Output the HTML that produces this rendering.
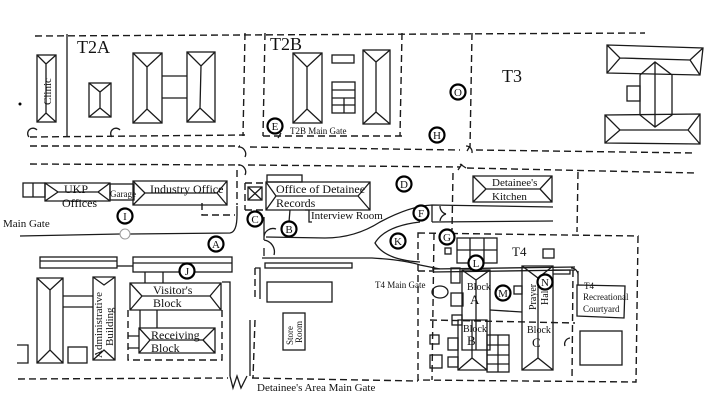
<!DOCTYPE html>
<html><head><meta charset="utf-8"><style>
html,body{margin:0;padding:0;background:#fff;}
svg{display:block;}
text{font-family:"Liberation Serif",serif;fill:#111;}
.s{fill:none;stroke:#1a1a1a;stroke-width:1.3;}
.d{fill:none;stroke:#1a1a1a;stroke-width:1.4;stroke-dasharray:7 4;}
.c{fill:#fff;stroke:#000;stroke-width:2.2;}
.cl{font-size:11px;text-anchor:middle;}
</style></head><body>
<svg width="720" height="414" viewBox="0 0 720 414" xmlns="http://www.w3.org/2000/svg">
<path class="d" d="M35 36 L645 33"/>
<path class="d" d="M245 33 L243 136"/>
<path class="d" d="M265 33 L263 136"/>
<path class="d" d="M402 33 L400 136"/>
<path class="d" d="M472 33 L470 148"/>
<path class="d" d="M30 137 L245 135"/>
<path class="d" d="M263 136 L402 136"/>
<line class="s" x1="67" y1="34" x2="67" y2="137"/>
<text x="77" y="53" font-size="18">T2A</text>
<text x="270" y="50" font-size="18">T2B</text>
<text x="502" y="82" font-size="18">T3</text>
<g class="s"><rect x="37" y="55" width="19" height="67"/><path d="M37 55 L46 64 L56 55 M46 64 L46 113 M37 122 L46 113 L56 122"/></g>
<text x="0" y="0" font-size="11" transform="translate(51,105) rotate(-90)">Clinic</text>
<circle cx="20" cy="104" r="1.5" fill="#000"/>
<g class="s">
<rect x="89" y="83" width="22" height="34"/><path d="M89 83 L100 92 L111 83 M100 92 L100 108 M89 117 L100 108 L111 117"/>
<rect x="133" y="53" width="29" height="70"/><path d="M133 53 L147 67 L162 53 M147 67 L147 109 M133 123 L147 109 L162 123"/>
<rect x="187" y="52" width="28" height="70"/><path d="M187 52 L201 66 L215 52 M201 66 L200 108 M187 122 L200 108 L215 122"/>
<path d="M162 76 L187 76 M162 98 L187 98"/>
<rect x="293" y="53" width="29" height="70"/><path d="M293 53 L307 67 L322 53 M307 67 L307 109 M293 123 L307 109 L322 123"/>
<rect x="332" y="55" width="22" height="8"/>
<rect x="332" y="82" width="23" height="31"/><path d="M332 90 L355 90 M332 98 L355 98 M332 105 L355 105 M344 98 L344 113"/>
<rect x="363" y="50" width="27" height="74"/><path d="M363 50 L376 62 L390 50 M376 62 L376 112 M363 124 L376 112 L390 124"/>
<path d="M607 45 L703 48 L700 75 L607 73 Z M607 45 L620 58 L607 73 M620 58 L690 60 L703 48 M690 60 L700 75"/>
<path d="M605 115 L700 114 L700 144 L605 143 Z M605 115 L620 130 L605 143 M620 130 L688 130 L700 114 M688 130 L700 144"/>
<path d="M640 75 L655 62 L672 75 L672 115 L655 127 L640 115 Z M655 62 L655 127"/>
<rect x="627" y="86" width="13" height="15"/>
</g>
<g class="s"><path d="M29 137 a5 5 0 0 1 8 -7"/><path d="M112 137 a5 5 0 0 1 8 -7"/><path d="M278 138 l3 -5"/><path d="M467 151 l3 -5 M466 146 a6 6 0 0 1 6 7"/><path d="M458 170 l4 -6 M460 164 l6 4"/></g>
<path class="d" d="M30 146 L240 146 M250 147 L460 150 M476 150 L695 153"/>
<path class="d" d="M30 164 L240 165 M248 165 L460 167 M467 168 L695 173"/>
<g class="s"><path d="M238 147 a7 7 0 0 1 7 10"/><path d="M238 165 a7 7 0 0 1 7 10"/></g>
<circle class="c" cx="275" cy="126" r="7.5"/><text class="cl" x="275" y="130">E</text>
<text x="290" y="134" font-size="9">T2B Main Gate</text>
<circle class="c" cx="458" cy="92" r="7.5"/><text class="cl" x="458" y="96">O</text>
<circle class="c" cx="437" cy="135" r="7.5"/><text class="cl" x="437" y="139">H</text>
<g class="s">
<rect x="23" y="183" width="22" height="14"/><line x1="33" y1="183" x2="33" y2="197"/>
<path d="M45 183 L110 183 L110 201 L45 201 Z M45 183 L58 192 L45 201 M58 192 L98 192 L110 183 M98 192 L110 201"/>
<rect x="110" y="184" width="24" height="16"/>
<path d="M133 181 L227 181 L227 205 L133 205 Z M133 181 L145 193 L133 205 M145 193 L217 193 L227 181 M217 193 L227 205"/>
</g>
<path class="d" d="M202 203 L202 215 L235 215"/>
<text x="64" y="193" font-size="12">UKP</text><text x="62" y="207" font-size="12">Offices</text>
<text x="110" y="197" font-size="9">Garage</text>
<text x="150" y="193" font-size="12">Industry Office</text>
<path class="d" d="M237 170 L237 205"/>
<path class="s" d="M20 236 L120 234 M130 234 L230 233 Q237 232 237 215 L237 206"/>
<circle cx="125" cy="234" r="5" fill="none" stroke="#999"/>
<text x="3" y="227" font-size="11">Main Gate</text>
<circle class="c" cx="125" cy="216" r="7.5"/><text class="cl" x="125" y="220">I</text>
<circle class="c" cx="216" cy="244" r="7.5"/><text class="cl" x="216" y="248">A</text>
<path class="d" d="M245 183 L265 183 M245 210 L265 210 M245 183 L245 210"/>
<g class="s">
<rect x="248" y="187" width="14" height="13"/><path d="M248 187 L262 200 M262 187 L248 200"/>
<rect x="267" y="175" width="35" height="7"/>
<path d="M266 182 L370 182 L370 210 L266 210 Z M266 182 L276 196 L266 210 M276 196 L358 196 L370 182 M358 196 L370 210"/>
<path d="M290 210 L289 222 M305 210 L309 210 L309 222 L312 222"/>
<path d="M264 217 L264 240 M264 237 a9 9 0 0 1 12 -8 M264 248 L264 256 M264 240 a12 12 0 0 1 10 15"/>
</g>
<text x="276" y="193" font-size="12">Office of Detainee</text>
<text x="276" y="207" font-size="12">Records</text>
<text x="311" y="219" font-size="11">Interview Room</text>
<circle class="c" cx="255" cy="219" r="7.5"/><text class="cl" x="255" y="223">C</text>
<circle class="c" cx="289" cy="229" r="7.5"/><text class="cl" x="289" y="233">B</text>
<g class="s">
<path d="M266 237 L325 238 Q355 238 380 222 Q410 206 432 205 L553 207"/>
<path d="M432 222 L553 221"/>
<path d="M262 258 L372 258 Q405 260 420 265 L440 269"/>
<path d="M420 262 Q385 260 375 243 Q385 226 420 222" />
<path d="M432 205 L432 222 M440 206 a8 8 0 0 0 6 8 M440 221 a8 8 0 0 1 6 -7"/>
<rect x="265" y="263" width="87" height="5"/>
</g>
<path class="d" d="M453 173 L452 230"/><path class="d" d="M578 172 L577 232"/>
<circle class="c" cx="404" cy="184" r="7.5"/><text class="cl" x="404" y="188">D</text>
<g class="s"><path d="M473 176 L552 176 L552 202 L473 202 Z M473 176 L486 189 L473 202 M486 189 L540 189 L552 176 M540 189 L552 202"/></g>
<text x="492" y="186" font-size="11">Detainee's</text><text x="492" y="200" font-size="11">Kitchen</text>
<circle class="c" cx="421" cy="213" r="7.5"/><text class="cl" x="421" y="217">F</text>
<circle class="c" cx="398" cy="241" r="7.5"/><text class="cl" x="398" y="245">K</text>
<path class="d" d="M418 233 L638 236 L636 382 L418 380 Z"/>
<path class="d" d="M434 233 L432 380 M430 320 L575 323 M573 270 L572 380 M418 271 L434 271"/>
<g class="s">
<path d="M432 269 L575 267 M433 272 L575 270"/>
<rect x="457" y="238" width="40" height="25"/><path d="M457 250 L497 250 M470 238 L470 263 M484 238 L484 263"/>
<rect x="543" y="249" width="11" height="9"/>
<rect x="445" y="248" width="6" height="6"/>
<path d="M462 270 L490 270 L490 350 L462 350 Z M462 270 L476 280 L490 270 M476 280 L476 350"/>
<path d="M458 320 L487 320 L487 370 L458 370 Z M458 370 L472 358 L487 370 M472 358 L472 320"/>
<rect x="487" y="335" width="22" height="37"/><path d="M487 345 L509 345 M487 355 L509 355 M487 364 L509 364 M498 335 L498 372"/>
<path d="M522 266 L553 266 L553 370 L522 370 Z M522 266 L538 278 L553 266 M538 278 L538 358 M522 370 L538 358 L553 370"/>
<path d="M490 310 L522 312"/>
<rect x="451" y="268" width="9" height="15"/>
<rect x="451" y="293" width="12" height="13"/>
<rect x="452" y="315" width="10" height="10"/>
<rect x="430" y="355" width="12" height="13"/>
<rect x="430" y="335" width="9" height="9"/>
<rect x="448" y="338" width="10" height="12"/>
<rect x="448" y="357" width="10" height="10"/>
<ellipse cx="440" cy="292" rx="8" ry="6"/>
<rect x="514" y="286" width="8" height="8"/>
<path d="M553 270 L570 270 L570 274 L553 274"/>
<path d="M571 268 a7 7 0 0 1 7 8 M578 271 L578 285"/>
<path d="M577 285 L625 286 L624 318 L577 316 Z"/>
<rect x="580" y="331" width="42" height="34"/>
<path d="M570 338 a6 6 0 0 0 -5 8"/>
</g>
<text x="512" y="256" font-size="13">T4</text>
<circle class="c" cx="476" cy="263" r="7.5"/><text class="cl" x="476" y="267">L</text>
<circle class="c" cx="545" cy="282" r="7.5"/><text class="cl" x="545" y="286">N</text>
<circle class="c" cx="503" cy="293" r="7.5"/><text class="cl" x="503" y="297">M</text>
<circle class="c" cx="447" cy="237" r="7.5"/><text class="cl" x="447" y="241">G</text>
<text x="467" y="290" font-size="10">Block</text><text x="470" y="304" font-size="13">A</text>
<text x="463" y="332" font-size="10">Block</text><text x="467" y="345" font-size="13">B</text>
<text x="527" y="333" font-size="10">Block</text><text x="532" y="347" font-size="13">C</text>
<text font-size="10" transform="translate(536,310) rotate(-90)">Prayer</text>
<text font-size="10" transform="translate(548,305) rotate(-90)">Hall</text>
<text x="584" y="289" font-size="9">T4</text>
<text x="583" y="300" font-size="9">Recreational</text>
<text x="583" y="312" font-size="9">Courtyard</text>
<text x="375" y="288" font-size="9">T4 Main Gate</text>
<g class="s">
<rect x="40" y="257" width="77" height="11"/><line x1="40" y1="261" x2="117" y2="261"/>
<path d="M117 266 L133 266"/>
<rect x="133" y="257" width="99" height="15"/><line x1="133" y1="263" x2="232" y2="263"/>
<path d="M145 272 L145 283 M163 272 L163 283"/>
<path d="M130 283 L221 283 L221 310 L130 310 Z M130 283 L142 296 L130 310 M142 296 L210 296 L221 283 M210 296 L221 310"/>
<path d="M140 310 L140 328 M157 310 L157 328"/>
<path d="M139 328 L215 328 L215 353 L139 353 Z M139 328 L150 340 L139 353 M150 340 L203 340 L215 328 M203 340 L215 353"/>
<path d="M128 336 L139 336 M128 348 L139 348"/>
<path d="M222 282 L230 282 L230 376"/>
<path d="M37 278 L63 278 L63 363 L37 363 Z M37 278 L50 290 L63 278 M50 290 L50 350 M37 363 L50 350 L63 363"/>
<path d="M63 296 L93 296 M63 307 L93 307"/>
<path d="M93 277 L115 277 L115 360 L93 360 Z M93 277 L104 285 L115 277 M93 360 L104 350 L115 360"/>
<rect x="68" y="347" width="19" height="16"/>
<path d="M17 345 L28 345 L28 363 L17 363"/>
<path d="M230 376 L233 388 L237 376 L241 388 L247 376"/>
</g>
<path class="d" d="M128 310 L128 360 L222 360 L222 310"/>
<circle class="c" cx="187" cy="271" r="7.5"/><text class="cl" x="187" y="275">J</text>
<text x="153" y="294" font-size="12">Visitor's</text><text x="153" y="307" font-size="12">Block</text>
<text x="151" y="339" font-size="12">Receiving</text><text x="151" y="352" font-size="12">Block</text>
<text font-size="11" transform="translate(102,358) rotate(-90)">Administrative</text>
<text font-size="11" transform="translate(113,346) rotate(-90)">Building</text>
<path class="d" d="M18 379 L228 378 M252 378 L418 381"/>
<path class="d" d="M255 268 L255 298 M255 320 L253 378"/>
<g class="s">
<path d="M250 320 L250 376"/>
<rect x="267" y="282" width="65" height="20"/>
<rect x="283" y="313" width="22" height="37"/>
<path d="M255 268 L260 268 L260 299"/>
</g>
<text font-size="9" transform="translate(293,345) rotate(-90)">Store</text>
<text font-size="9" transform="translate(302,343) rotate(-90)">Room</text>
<text x="257" y="391" font-size="11">Detainee's Area Main Gate</text>
</svg>
</body></html>
